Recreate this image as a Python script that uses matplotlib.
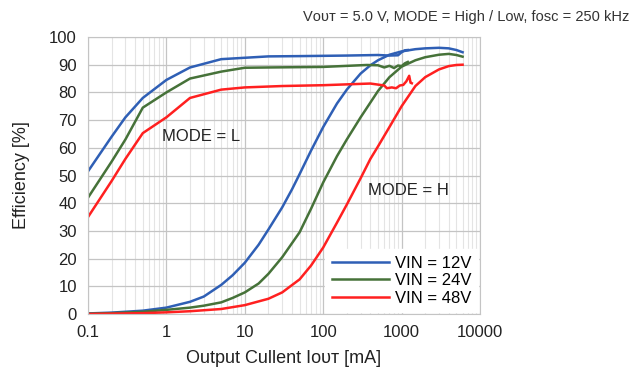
import matplotlib
matplotlib.use('Agg')
import matplotlib.pyplot as plt
from matplotlib.ticker import FixedLocator, LogLocator, NullFormatter

plt.rcParams['font.family'] = ['Liberation Sans', 'DejaVu Sans']

# Mode H curves (heavy load)
iout_h_12 = [0.1, 0.2, 0.5, 1, 2, 3, 5, 7, 10, 15, 20, 30, 40, 50, 70, 100, 150, 200, 300, 400, 500, 700,
             1000, 1500, 2000, 3000, 4000, 5000, 6000]
eff_h_12 = [0.2, 0.5, 1.2, 2.3, 4.4, 6.3, 10.5, 14, 18.5, 25, 30.5, 38.5, 45, 50.5, 59, 67.5, 76, 81, 86.8, 89.8, 91.6, 93.6,
            94.8, 95.6, 95.9, 96.1, 95.9, 95.3, 94.5]

iout_h_24 = [0.1, 0.2, 0.5, 1, 2, 3, 5, 7, 10, 15, 20, 30, 50, 70, 100, 150, 200, 300, 500, 700,
             1000, 1500, 2000, 3000, 4000, 5000, 6000]
eff_h_24 = [0.1, 0.3, 0.8, 1.5, 2.3, 3, 4.2, 5.8, 7.8, 11, 14.5, 20.5, 29.5, 38, 47.5, 57, 63, 71, 80.5, 85.5,
            89.3, 91.6, 92.7, 93.6, 93.9, 93.5, 92.9]

iout_h_48 = [0.1, 0.5, 1, 2, 5, 10, 20, 30, 50, 70, 100, 150, 200, 300, 400, 500, 700,
             1000, 1500, 2000, 3000, 4000, 5000, 6000]
eff_h_48 = [0, 0.3, 0.6, 1.0, 1.8, 3.2, 5.5, 7.8, 12.5, 17.5, 24, 33, 39.5, 49, 56, 60.5, 67.5,
            75, 82.3, 85.5, 88.3, 89.5, 89.9, 90]

# Mode L curves (light load)
iout_l_12 = [0.1, 0.2, 0.3, 0.5, 1, 2, 5, 10, 20, 50, 100, 200, 500, 700, 900, 1000, 1100, 1200]
eff_l_12 = [51.5, 64, 71, 78, 84.5, 89, 92, 92.5, 93, 93.1, 93.2, 93.3, 93.5, 93.3, 93.4, 94.5, 95.2, 95.3]

iout_l_24 = [0.1, 0.2, 0.3, 0.5, 1, 2, 5, 10, 20, 100, 360, 500, 600, 700, 800, 900, 1000, 1100, 1200]
eff_l_24 = [42, 55, 63, 74.5, 80, 85, 87.5, 88.9, 89, 89.2, 89.9, 89.8, 89, 89.6, 88.8, 89.7, 89.5, 90.5, 91]

iout_l_48 = [0.1, 0.2, 0.3, 0.5, 1, 2, 5, 10, 30, 100, 400, 600, 650, 750, 850, 950, 1050, 1150, 1250, 1300, 1350]
eff_l_48 = [35, 48, 56, 65.3, 71, 78, 81, 81.8, 82.3, 82.6, 83.2, 82.5, 81.5, 81.8, 81.5, 82.5, 82.7, 84, 86, 83.5, 83.3]

x_ticks = [0.1, 1, 10, 100, 1000, 10000]
x_tick_labels = ['0.1', '1', '10', '100', '1000', '10000']
y_ticks = [0, 10, 20, 30, 40, 50, 60, 70, 80, 90, 100]

c12 = '#2f5fb5'
c24 = '#467239'
c48 = '#ff2020'

fig = plt.figure(figsize=(6.33, 3.69), dpi=100)
ax = fig.add_axes([88 / 633, 55 / 369, 392 / 633, 277 / 369])

lw = 1.8
ax.plot(iout_h_12, eff_h_12, color=c12, lw=lw, label='VIN = 12V')
ax.plot(iout_h_24, eff_h_24, color=c24, lw=lw, label='VIN = 24V')
ax.plot(iout_h_48, eff_h_48, color=c48, lw=lw, label='VIN = 48V')
ax.plot(iout_l_12, eff_l_12, color=c12, lw=lw)
ax.plot(iout_l_24, eff_l_24, color=c24, lw=lw)
ax.plot(iout_l_48, eff_l_48, color=c48, lw=lw)

ax.set_xscale('log')
ax.set_xlim(0.1, 10000)
ax.set_ylim(0, 100)
ax.xaxis.set_major_locator(FixedLocator(x_ticks))
ax.set_xticklabels(x_tick_labels)
ax.xaxis.set_minor_locator(LogLocator(base=10, subs=range(2, 10), numticks=20))
ax.xaxis.set_minor_formatter(NullFormatter())
ax.set_yticks(y_ticks)

ax.grid(True, which='major', color='#c4c4c4', lw=0.9)
ax.grid(True, which='minor', axis='x', color='#e4e4e4', lw=0.8)
ax.set_axisbelow(True)
for s in ax.spines.values():
    s.set_color('#c4c4c4')
ax.tick_params(which='both', length=0, labelsize=12, pad=8, colors='#222222')

ax.set_xlabel('Output Cullent Iᴏᴜᴛ [mA]', fontsize=13, color='#222222', labelpad=7)
ax.set_ylabel('Efficiency [%]', fontsize=13, color='#222222', labelpad=14)

ax.text(0.19, 0.64, 'MODE = L', transform=ax.transAxes, fontsize=12, va='center', color='#222222')
ax.text(0.715, 0.445, 'MODE = H', transform=ax.transAxes, fontsize=12, va='center', color='#222222')

fig.text(0.995, 0.955, 'Vᴏᴜᴛ = 5.0 V, MODE = High / Low, fosc = 250 kHz', ha='right', va='center',
         fontsize=10.5, color='#333333')

leg = ax.legend(loc='lower right', fontsize=12, handlelength=3.4, labelspacing=0.15,
                borderaxespad=0.1, frameon=True, fancybox=False, handletextpad=0.4)
leg.get_frame().set_facecolor('white')
leg.get_frame().set_edgecolor('white')
leg.get_frame().set_alpha(1)

fig.savefig('out.png', dpi=100)
